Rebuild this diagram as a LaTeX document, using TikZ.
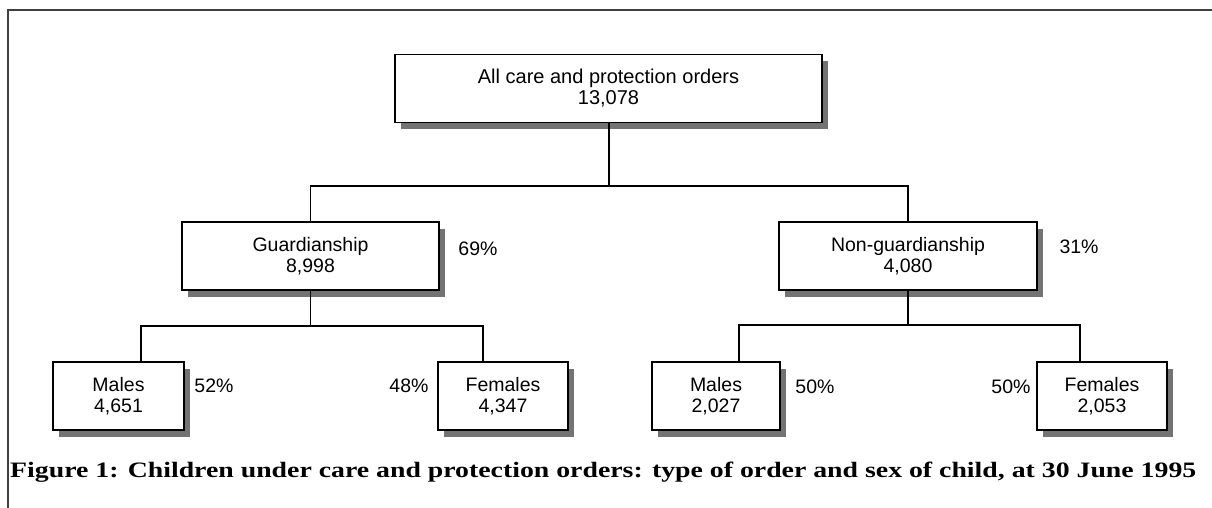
\documentclass[tikz,border=0pt]{standalone}
\usepackage{fontspec}
\usepackage{graphicx}
\newfontfamily\arialf{Liberation Sans}
\newfontfamily\capf{Liberation Serif}
\usetikzlibrary{shadows}
\begin{document}
\begin{tikzpicture}[x=1pt,y=-1pt,
  box/.style={draw=black, line width=1.5pt, fill=white, minimum height=68pt,
    inner sep=0pt, align=center, font={\arialf\fontsize{19.5}{21}\selectfont},
    drop shadow={shadow xshift=6pt, shadow yshift=-7pt, fill=black!55, opacity=1}},
  pct/.style={inner sep=0pt, font={\arialf\fontsize{19.5}{21}\selectfont}},
  conn/.style={line width=1.7pt, black},
  frame/.style={line width=1.2pt, black!75}]
\useasboundingbox (0,0) rectangle (1212,508);
\fill[white] (0,0) rectangle (1212,508);
% frame
\coordinate (fb) at (8,508);
\coordinate (fc) at (8,10);
\coordinate (fr) at (1212,10);
\draw[frame] (fb) -- (fc) -- (fr);
% boxes
\node[box, minimum width=427pt, font={\arialf\fontsize{20}{21}\selectfont}] (top) at (608.5,88.5) {All care and protection orders\\13,078};
\node[box, minimum width=257pt] (g) at (310.5,256) {Guardianship\\8,998};
\node[box, minimum width=258pt] (ng) at (908,256) {Non-guardianship\\4,080};
\node[box, minimum width=131pt] (m1) at (118.5,396) {Males\\4,651};
\node[box, minimum width=130pt] (f1) at (503,396) {Females\\4,347};
\node[box, minimum width=128pt] (m2) at (716,396) {Males\\2,027};
\node[box, minimum width=130pt] (f2) at (1102,396) {Females\\2,053};
% percentages
\node[pct] (p69) at (478,249) {69\%};
\node[pct] (p31) at (1079,247) {31\%};
\node[pct] (p52) at (214,386) {52\%};
\node[pct] (p48) at (409,386) {48\%};
\node[pct] (p50a) at (815,387) {50\%};
\node[pct] (p50b) at (1011,387) {50\%};
% connectors
\coordinate (j0) at (609,186);
\coordinate (hR) at (908,186);
\draw[conn] (top.south -| j0) -- (j0);
\draw[conn] (g.north) |- (hR) -- (ng.north);
\coordinate (a1) at (141,326);
\coordinate (b1) at (483,326);
\draw[conn] (g.south) -- (g.south |- a1);
\draw[conn] (m1.north -| a1) -- (a1) -- (b1) -- (f1.north -| b1);
\coordinate (a2) at (739,325);
\coordinate (b2) at (1080,325);
\draw[conn] (ng.south) -- (ng.south |- a2);
\draw[conn] (m2.north -| a2) -- (a2) -- (b2) -- (f2.north -| b2);
% caption
\node[anchor=base west, inner sep=0pt] (cap) at (10,477)
  {\resizebox{1186pt}{\height}{\capf\bfseries\fontsize{22}{24}\selectfont Figure 1: Children under care and protection orders: type of order and sex of child, at 30 June 1995}};
\end{tikzpicture}
\end{document}
